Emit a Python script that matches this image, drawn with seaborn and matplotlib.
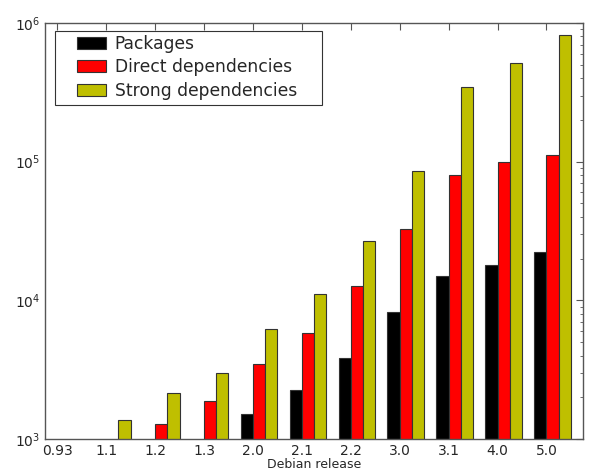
import numpy as np
import pandas as pd
import matplotlib
matplotlib.use("Agg")
import matplotlib.pyplot as plt
import matplotlib.patches as mpatches
import seaborn as sns

# Debian releases and counts (values below 10^3 are not visible -> NaN)
releases = ["0.93", "1.1", "1.2", "1.3", "2.0", "2.1", "2.2", "3.0", "3.1", "4.0", "5.0"]
packages = [np.nan, np.nan, np.nan, np.nan, 1510, 2270, 3860, 8200, 15000, 17950, 22300]
direct_deps = [np.nan, np.nan, 1280, 1880, 3490, 5850, 12650, 32600, 80000, 99500, 112500]
strong_deps = [np.nan, 1370, 2150, 2980, 6180, 11150, 26900, 85500, 345000, 516000, 822000]

series = ["Packages", "Direct dependencies", "Strong dependencies"]
colors = ["#000000", "#ff0000", "#bfbf00"]

df = pd.DataFrame({
    "release": releases * 3,
    "count": packages + direct_deps + strong_deps,
    "kind": [s for s in series for _ in releases],
})

sns.set_style("white")
plt.rcParams["font.family"] = ["DejaVu Sans"]

fig = plt.figure(figsize=(5.92, 4.70), dpi=100)
ax = fig.add_axes([0.076, 0.066, 0.909, 0.885])

sns.barplot(
    data=df, x="release", y="count", hue="kind",
    order=releases, hue_order=series, palette=colors,
    width=0.75, errorbar=None, edgecolor="#333333", linewidth=0.8,
    saturation=1, ax=ax,
)

ax.set_yscale("log")
ax.set_ylim(1e3, 1e6)
ax.set_xlim(-0.375, len(releases) - 0.375)

# ticks sit at the left edge of the middle bar, like the old matplotlib example
ax.set_xticks(np.arange(len(releases)) - 0.125)
ax.set_xticklabels(releases)
ax.set_xlabel("Debian release", fontsize=9, labelpad=0)
ax.set_ylabel("")

ax.tick_params(which="both", direction="in", top=True, right=True, labelsize=10, color="#555555")
ax.tick_params(which="major", length=5)
ax.tick_params(which="minor", length=2.5)
for sp in ax.spines.values():
    sp.set_color("#555555")
    sp.set_linewidth(1.0)

# legend frame drawn by hand (old-style legend has wide side padding)
frame = mpatches.Rectangle((0.0186, 0.803), 0.496, 0.178, transform=ax.transAxes,
                           facecolor="white", edgecolor="#333333", linewidth=0.8, zorder=4)
ax.add_patch(frame)
leg = ax.legend(loc="upper left", bbox_to_anchor=(0.0595, 0.972), fontsize=12.3,
                frameon=False, borderpad=0, borderaxespad=0,
                handlelength=1.7, handleheight=0.7, handletextpad=0.5, labelspacing=0.33)
leg.set_zorder(5)

fig.savefig("out.png", dpi=100)
